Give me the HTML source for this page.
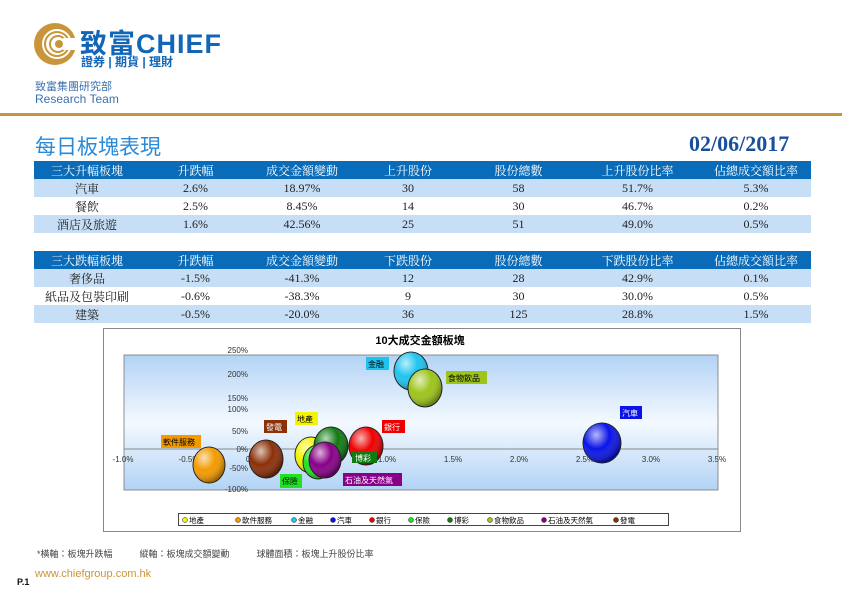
<!DOCTYPE html>
<html><head><meta charset="utf-8"><style>
body{margin:0;width:842px;height:595px;background:#fff;position:relative;overflow:hidden;font-family:"Liberation Sans","Noto Sans CJK TC",sans-serif}
.a{position:absolute;white-space:nowrap}
table{position:absolute;left:34px;width:777px;border-collapse:collapse;font-family:"Liberation Serif","Noto Serif CJK SC",serif;font-size:12px}
td{height:18px;padding:0;text-align:center;color:#222}
tr.h td{background:#0a6cb8;color:#fff}
tr.b td{background:#c7dff6}
</style></head><body>
<svg class="a" style="left:33px;top:22px" width="44" height="44" viewBox="0 0 44 44">
<circle cx="22" cy="22" r="21" fill="#c9953a"/><circle cx="24" cy="22" r="15" fill="#fff"/>
<circle cx="24" cy="22" r="12" fill="none" stroke="#c9953a" stroke-width="2"/>
<circle cx="25" cy="22" r="8" fill="none" stroke="#c9953a" stroke-width="2"/>
<circle cx="26" cy="22" r="4" fill="#c9953a"/><rect x="30" y="16" width="14" height="12" fill="#fff"/></svg>
<div class="a" style="left:80px;top:22px;font-size:27px;font-weight:bold;color:#1166b8;letter-spacing:1px">致富CHIEF</div>
<div class="a" style="left:81px;top:53px;font-size:12px;font-weight:bold;color:#1166b8">證券 | 期貨 | 理財</div>
<div class="a" style="left:35px;top:78px;font-size:11px;color:#3a70b0">致富集團研究部</div>
<div class="a" style="left:35px;top:92px;font-size:12px;color:#3a70b0">Research Team</div>
<div class="a" style="left:0;top:113px;width:842px;height:3px;background:#c9953a"></div>
<div class="a" style="left:35px;top:131px;font-size:21px;color:#2a8ad8">每日板塊表現</div>
<div class="a" style="left:689px;top:131px;font-size:22px;font-weight:bold;color:#1a4f9c;font-family:'Liberation Serif',serif">02/06/2017</div>
<table style="top:161px"><colgroup><col style="width:106px"><col style="width:111px"><col style="width:102px"><col style="width:110px"><col style="width:111px"><col style="width:127px"><col style="width:110px"></colgroup>
<tr class="h"><td>三大升幅板塊</td><td>升跌幅</td><td>成交金額變動</td><td>上升股份</td><td>股份總數</td><td>上升股份比率</td><td>佔總成交額比率</td></tr>
<tr class="b"><td>汽車</td><td>2.6%</td><td>18.97%</td><td>30</td><td>58</td><td>51.7%</td><td>5.3%</td></tr>
<tr><td>餐飲</td><td>2.5%</td><td>8.45%</td><td>14</td><td>30</td><td>46.7%</td><td>0.2%</td></tr>
<tr class="b"><td>酒店及旅遊</td><td>1.6%</td><td>42.56%</td><td>25</td><td>51</td><td>49.0%</td><td>0.5%</td></tr></table>
<table style="top:251px"><colgroup><col style="width:106px"><col style="width:111px"><col style="width:102px"><col style="width:110px"><col style="width:111px"><col style="width:127px"><col style="width:110px"></colgroup>
<tr class="h"><td>三大跌幅板塊</td><td>升跌幅</td><td>成交金額變動</td><td>下跌股份</td><td>股份總數</td><td>下跌股份比率</td><td>佔總成交額比率</td></tr>
<tr class="b"><td>奢侈品</td><td>-1.5%</td><td>-41.3%</td><td>12</td><td>28</td><td>42.9%</td><td>0.1%</td></tr>
<tr><td>紙品及包裝印刷</td><td>-0.6%</td><td>-38.3%</td><td>9</td><td>30</td><td>30.0%</td><td>0.5%</td></tr>
<tr class="b"><td>建築</td><td>-0.5%</td><td>-20.0%</td><td>36</td><td>125</td><td>28.8%</td><td>1.5%</td></tr></table>
<svg class="a" style="left:0;top:0" width="842" height="595" font-family="Liberation Sans,Noto Sans CJK TC,sans-serif">
<defs><linearGradient id="pg" x1="0" y1="0" x2="0" y2="1"><stop offset="0" stop-color="#b2d3f5"/><stop offset="0.5" stop-color="#f4f9ff"/><stop offset="1" stop-color="#b2d3f5"/></linearGradient>
<radialGradient id="sh" cx="0.35" cy="0.3" r="0.7"><stop offset="0" stop-color="#fff" stop-opacity="0.7"/><stop offset="0.5" stop-color="#fff" stop-opacity="0"/><stop offset="1" stop-color="#000" stop-opacity="0.35"/></radialGradient></defs>
<rect x="103.5" y="328.5" width="637" height="203" fill="#fff" stroke="#888"/>
<text x="420" y="344" font-size="11" font-weight="bold" text-anchor="middle">10大成交金額板塊</text>
<rect x="124" y="355" width="594" height="135" fill="url(#pg)" stroke="#777" stroke-width="0.8"/>
<line x1="124" y1="449" x2="718" y2="449" stroke="#888"/>
<g font-size="8" fill="#333" text-anchor="end">
<text x="248" y="353">250%</text><text x="248" y="377">200%</text><text x="248" y="401">150%</text><text x="248" y="412">100%</text><text x="248" y="434">50%</text><text x="248" y="452">0%</text><text x="248" y="471">-50%</text><text x="248" y="492">-100%</text></g>
<g font-size="8" fill="#333" text-anchor="middle">
<text x="123" y="462">-1.0%</text><text x="189" y="462">-0.5%</text><text x="255" y="462">0.0%</text><text x="321" y="462">0.5%</text><text x="387" y="462">1.0%</text><text x="453" y="462">1.5%</text><text x="519" y="462">2.0%</text><text x="585" y="462">2.5%</text><text x="651" y="462">3.0%</text><text x="717" y="462">3.5%</text></g>
<g stroke="#222" stroke-width="0.8">
<ellipse cx="411" cy="371" rx="17" ry="19" fill="#1ec4f0"/><ellipse cx="411" cy="371" rx="17" ry="19" fill="url(#sh)"/>
<ellipse cx="425" cy="388" rx="17" ry="19" fill="#9cc41a"/><ellipse cx="425" cy="388" rx="17" ry="19" fill="url(#sh)"/>
<ellipse cx="602" cy="443" rx="19" ry="20" fill="#0a14e8"/><ellipse cx="602" cy="443" rx="19" ry="20" fill="url(#sh)"/>
<ellipse cx="209" cy="465" rx="16" ry="18" fill="#f39a00"/><ellipse cx="209" cy="465" rx="16" ry="18" fill="url(#sh)"/>
<ellipse cx="266" cy="459" rx="17" ry="19" fill="#8b3008"/><ellipse cx="266" cy="459" rx="17" ry="19" fill="url(#sh)"/>
<ellipse cx="311" cy="455" rx="16" ry="18" fill="#f4f400"/><ellipse cx="311" cy="455" rx="16" ry="18" fill="url(#sh)"/>
<ellipse cx="366" cy="446" rx="17" ry="19" fill="#ee0000"/><ellipse cx="366" cy="446" rx="17" ry="19" fill="url(#sh)"/>
<ellipse cx="331" cy="446" rx="17" ry="19" fill="#127a12"/><ellipse cx="331" cy="446" rx="17" ry="19" fill="url(#sh)"/>
<ellipse cx="318" cy="462" rx="15" ry="17" fill="#22e022"/><ellipse cx="318" cy="462" rx="15" ry="17" fill="url(#sh)"/>
<ellipse cx="325" cy="460" rx="16" ry="18" fill="#880088"/><ellipse cx="325" cy="460" rx="16" ry="18" fill="url(#sh)"/></g>
<g font-size="8">
<rect x="366" y="357" width="23" height="13" fill="#1ec4f0"/><text x="368" y="367">金融</text>
<rect x="446" y="371" width="41" height="13" fill="#9cc41a"/><text x="448" y="381">食物飲品</text>
<rect x="620" y="406" width="22" height="13" fill="#0a14e8"/><text x="622" y="416" fill="#fff">汽車</text>
<rect x="382" y="420" width="23" height="13" fill="#ee0000"/><text x="384" y="430" fill="#fff">銀行</text>
<rect x="352" y="451" width="25" height="12" fill="#127a12"/><text x="355" y="461" fill="#fff">博彩</text>
<rect x="295" y="412" width="23" height="13" fill="#f4f400"/><text x="297" y="422">地產</text>
<rect x="264" y="420" width="23" height="13" fill="#8b3008"/><text x="266" y="430" fill="#fff">發電</text>
<rect x="161" y="435" width="40" height="13" fill="#f39a00"/><text x="163" y="445">軟件服務</text>
<rect x="280" y="474" width="22" height="14" fill="#22e022"/><text x="282" y="484">保險</text>
<rect x="343" y="473" width="59" height="13" fill="#880088"/><text x="345" y="483" fill="#fff">石油及天然氣</text></g>
<rect x="178.5" y="513.5" width="490" height="12" fill="#fff" stroke="#444"/>
<g font-size="7.5" stroke="#222" stroke-width="0.5">
<circle cx="185" cy="520" r="2.5" fill="#f4f400"/><text x="189" y="523" stroke="none">地產</text>
<circle cx="238" cy="520" r="2.5" fill="#f39a00"/><text x="242" y="523" stroke="none">軟件服務</text>
<circle cx="294" cy="520" r="2.5" fill="#1ec4f0"/><text x="298" y="523" stroke="none">金融</text>
<circle cx="333" cy="520" r="2.5" fill="#0a14e8"/><text x="337" y="523" stroke="none">汽車</text>
<circle cx="372" cy="520" r="2.5" fill="#ee0000"/><text x="376" y="523" stroke="none">銀行</text>
<circle cx="411" cy="520" r="2.5" fill="#22e022"/><text x="415" y="523" stroke="none">保險</text>
<circle cx="450" cy="520" r="2.5" fill="#127a12"/><text x="454" y="523" stroke="none">博彩</text>
<circle cx="490" cy="520" r="2.5" fill="#9cc41a"/><text x="494" y="523" stroke="none">食物飲品</text>
<circle cx="544" cy="520" r="2.5" fill="#880088"/><text x="548" y="523" stroke="none">石油及天然氣</text>
<circle cx="616" cy="520" r="2.5" fill="#8b3008"/><text x="620" y="523" stroke="none">發電</text></g>
</svg>
<div class="a" style="left:37px;top:547px;font-size:9px;color:#444">*橫軸：板塊升跌幅　　　縱軸：板塊成交額變動　　　球體面積：板塊上升股份比率</div>
<div class="a" style="left:35px;top:568px;font-size:11px;color:#c9953a">www.chiefgroup.com.hk</div>
<div class="a" style="left:17px;top:577px;font-size:9px;font-weight:bold;color:#111">P.1</div>
</body></html>
